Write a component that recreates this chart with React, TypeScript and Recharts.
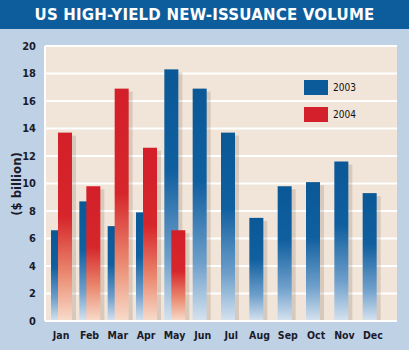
import { Bar, BarChart, CartesianGrid, Label, XAxis, YAxis } from "recharts";

const months = ["Jan", "Feb", "Mar", "Apr", "May", "Jun", "Jul", "Aug", "Sep", "Oct", "Nov", "Dec"];
const vol2003 = [6.6, 8.7, 6.9, 7.9, 18.3, 16.9, 13.7, 7.5, 9.8, 10.1, 11.6, 9.3];
const vol2004 = [13.7, 9.8, 16.9, 12.6, 6.6, null, null, null, null, null, null, null];
const yTicks = [0, 2, 4, 6, 8, 10, 12, 14, 16, 18, 20];
const seriesNames = ["2003", "2004"];

const data = months.map((m, i) => ({ month: m, y2003: vol2003[i], y2004: vol2004[i] }));

const FONT = "'DejaVu Sans', sans-serif";
const cond = { fontStretch: "condensed" } as const;
const BG = "#bfd1e5";
const PLOT = "#f1e4d8";
const BLUE = "#0b5a99";
const RED = "#d3202a";

const shadowShape = (fillId: string) => (props: any) => {
  const { x, y, width, height } = props;
  if (!height || height <= 0) return <g />;
  return (
    <g>
      <rect x={x + 4} y={y + 3} width={width} height={height - 3} fill="rgba(90,70,50,0.17)" />
      <rect x={x} y={y} width={width} height={height} fill={`url(#${fillId})`} />
    </g>
  );
};

export default function App() {
  return (
    <div style={{ position: "absolute", left: 0, top: 0, width: 409, height: 350, background: BG, overflow: "hidden" }}>
      <div
        style={{
          position: "absolute",
          left: 0,
          top: 0,
          width: 409,
          height: 29,
          background: "#0d5c9b",
          color: "#fff",
          fontFamily: FONT,
          fontWeight: "bold",
          fontSize: 15,
          lineHeight: "30px",
          textAlign: "center",
          letterSpacing: 0.2,
        }}
      >
        US HIGH-YIELD NEW-ISSUANCE VOLUME
      </div>
      <div style={{ position: "absolute", left: 0, top: 0 }}>
        <BarChart
          width={409}
          height={350}
          data={data}
          margin={{ top: 46, right: 12, bottom: 9, left: 0 }}
          barSize={14}
          barGap={-7}
        >
          <defs>
            <linearGradient id="g2003" x1="0" y1="0" x2="0" y2="1">
              <stop offset="0" stopColor="#0a5896" />
              <stop offset="0.4" stopColor="#105f9f" />
              <stop offset="0.75" stopColor="#6e9fcb" />
              <stop offset="1" stopColor="#d6e3ef" />
            </linearGradient>
            <linearGradient id="g2004" x1="0" y1="0" x2="0" y2="1">
              <stop offset="0" stopColor="#d31f29" />
              <stop offset="0.45" stopColor="#d6262b" />
              <stop offset="0.75" stopColor="#ea8a70" />
              <stop offset="1" stopColor="#f8dccb" />
            </linearGradient>
          </defs>
          <CartesianGrid
            vertical={false}
            fill={PLOT}
            fillOpacity={1}
            stroke="#ffffff"
            strokeWidth={2}
            horizontalValues={yTicks}
          />
          <XAxis
            dataKey="month"
            height={20}
            padding={{ left: 2, right: 10 }}
            axisLine={{ stroke: "#ffffff", strokeWidth: 2 }}
            tickLine={false}
            tickMargin={5}
            tick={{ fontFamily: FONT, fontSize: 10.5, fontWeight: "bold", fill: "#1b1b2b", style: cond }}
            interval={0}
          />
          <YAxis
            width={45}
            domain={[0, 20]}
            ticks={yTicks}
            interval={0}
            axisLine={{ stroke: "#ffffff", strokeWidth: 2 }}
            tickLine={false}
            tickMargin={3}
            tick={{ fontFamily: FONT, fontSize: 11, fontWeight: "bold", fill: "#1b1b2b", style: cond }}
          >
            <Label
              content={() => (
                <text
                  x={16}
                  y={184}
                  transform="rotate(-90 16 184)"
                  textAnchor="middle"
                  dominantBaseline="central"
                  fontFamily={FONT}
                  fontSize={13}
                  fontWeight="bold"
                  fill="#1b1b2b"
                  style={cond}
                >
                  ($ billion)
                </text>
              )}
            />
          </YAxis>
          <Bar dataKey="y2003" name={seriesNames[0]} shape={shadowShape("g2003")} isAnimationActive={false} />
          <Bar dataKey="y2004" name={seriesNames[1]} shape={shadowShape("g2004")} isAnimationActive={false} />
        </BarChart>
      </div>
      <div style={{ position: "absolute", left: 304, top: 80, fontFamily: FONT, fontSize: 10, color: "#111", ...cond }}>
        {[BLUE, RED].map((c, i) => (
          <div key={seriesNames[i]} style={{ display: "flex", alignItems: "center", marginBottom: i === 0 ? 12 : 0 }}>
            <div style={{ width: 24, height: 15, background: c, marginRight: 5 }} />
            <span>{seriesNames[i]}</span>
          </div>
        ))}
      </div>
    </div>
  );
}
